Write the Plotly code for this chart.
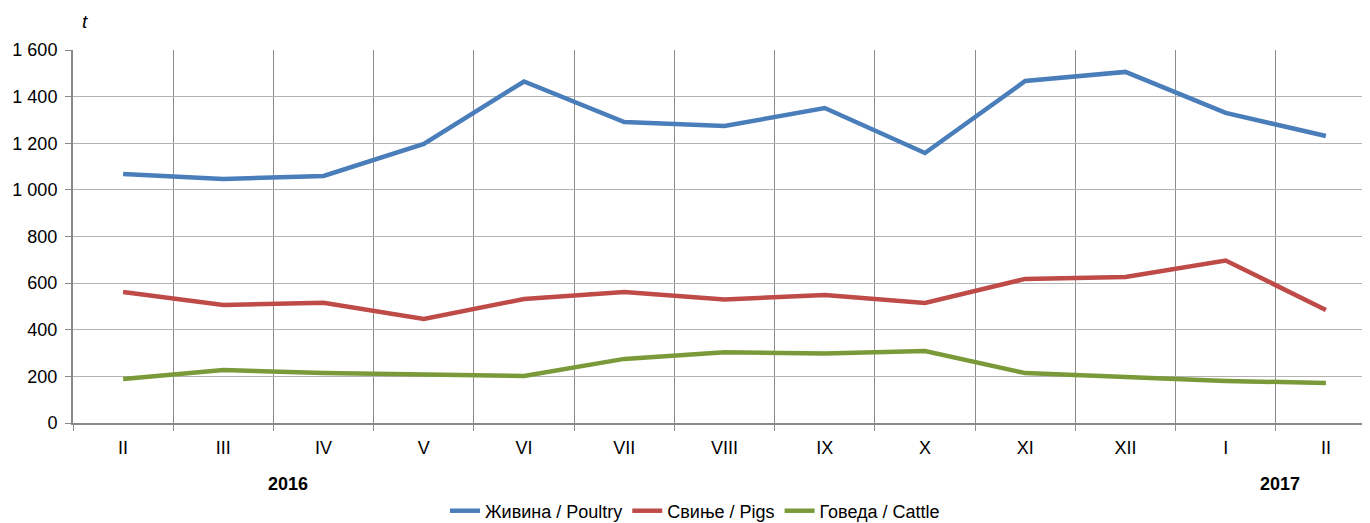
import plotly.graph_objects as go

categories = ["II", "III", "IV", "V", "VI", "VII", "VIII", "IX", "X", "XI", "XII", "I", "II "]
tick_labels = ["II", "III", "IV", "V", "VI", "VII", "VIII", "IX", "X", "XI", "XII", "I", "II"]
poultry = [1068, 1047, 1060, 1197, 1465, 1291, 1274, 1351, 1158, 1467, 1506, 1330, 1231]
pigs = [562, 506, 516, 446, 532, 562, 530, 549, 515, 618, 626, 697, 485]
cattle = [189, 227, 214, 210, 202, 275, 303, 298, 309, 214, 197, 180, 172]
series_names = ["Живина / Poultry", "Свиње / Pigs", "Говеда / Cattle"]
colors = ["#4a7ebb", "#be4b48", "#7a9a3a"]
year_labels = ["2016", "2017"]

FONT = "Liberation Sans, Arial, sans-serif"

# page body has an 8px margin: figure is sized so the plot lands on the reference pixels
OFF = 8
PLOT_L, PLOT_R, PLOT_T, PLOT_B = 73, 1370, 50, 423
W = 1370 - OFF
H = 523 - OFF
PW = PLOT_R - PLOT_L
PH = PLOT_B - PLOT_T

fig = go.Figure()
for name, vals, col in zip(series_names, [poultry, pigs, cattle], colors):
    fig.add_trace(go.Scatter(x=categories, y=vals, name=name, mode="lines",
                             line=dict(color=col, width=4.5)))

fig.update_layout(
    width=W, height=H,
    margin=dict(l=PLOT_L - OFF, r=0, t=PLOT_T - OFF, b=H - (PLOT_B - OFF)),
    plot_bgcolor="white", paper_bgcolor="white",
    separators=". ",
    font=dict(family=FONT, size=18, color="#000000"),
    showlegend=True,
    legend=dict(orientation="h", xref="container", yref="container",
                x=(695 - OFF) / W, xanchor="center",
                y=1 - (511 - OFF) / H, yanchor="middle",
                font=dict(size=18), tracegroupgap=0),
    xaxis=dict(type="category", categoryorder="array", categoryarray=categories,
               tickvals=categories, ticktext=tick_labels,
               range=[-0.5, 12.44], tickson="boundaries",
               showgrid=True, gridcolor="#8c8c8c", gridwidth=1,
               ticks="outside", ticklen=6, tickcolor="#8c8c8c", tickwidth=1,
               ticklabelstandoff=7,
               showline=True, linecolor="#898989", linewidth=2,
               zeroline=False, tickfont=dict(size=18)),
    yaxis=dict(range=[0, 1600], dtick=200, tickformat=",d",
               showgrid=True, gridcolor="#b3b3b3", gridwidth=1,
               ticks="outside", ticklen=6, tickcolor="#898989",
               ticklabelstandoff=4,
               showline=True, linecolor="#898989", linewidth=2,
               zeroline=False, tickfont=dict(size=18)),
)

fig.add_annotation(text="<i>t</i>", xref="paper", yref="paper",
                   x=(85 - PLOT_L) / PW, y=1 + (PLOT_T - 22) / PH,
                   showarrow=False, font=dict(size=19), xanchor="center", yanchor="middle")
for lab, px in zip(year_labels, [288, 1280]):
    fig.add_annotation(text="<b>" + lab + "</b>", xref="paper", yref="paper",
                       x=(px - PLOT_L) / PW, y=-(484 - PLOT_B) / PH,
                       showarrow=False, font=dict(size=18), xanchor="center", yanchor="middle")

fig.write_html("out.html")
